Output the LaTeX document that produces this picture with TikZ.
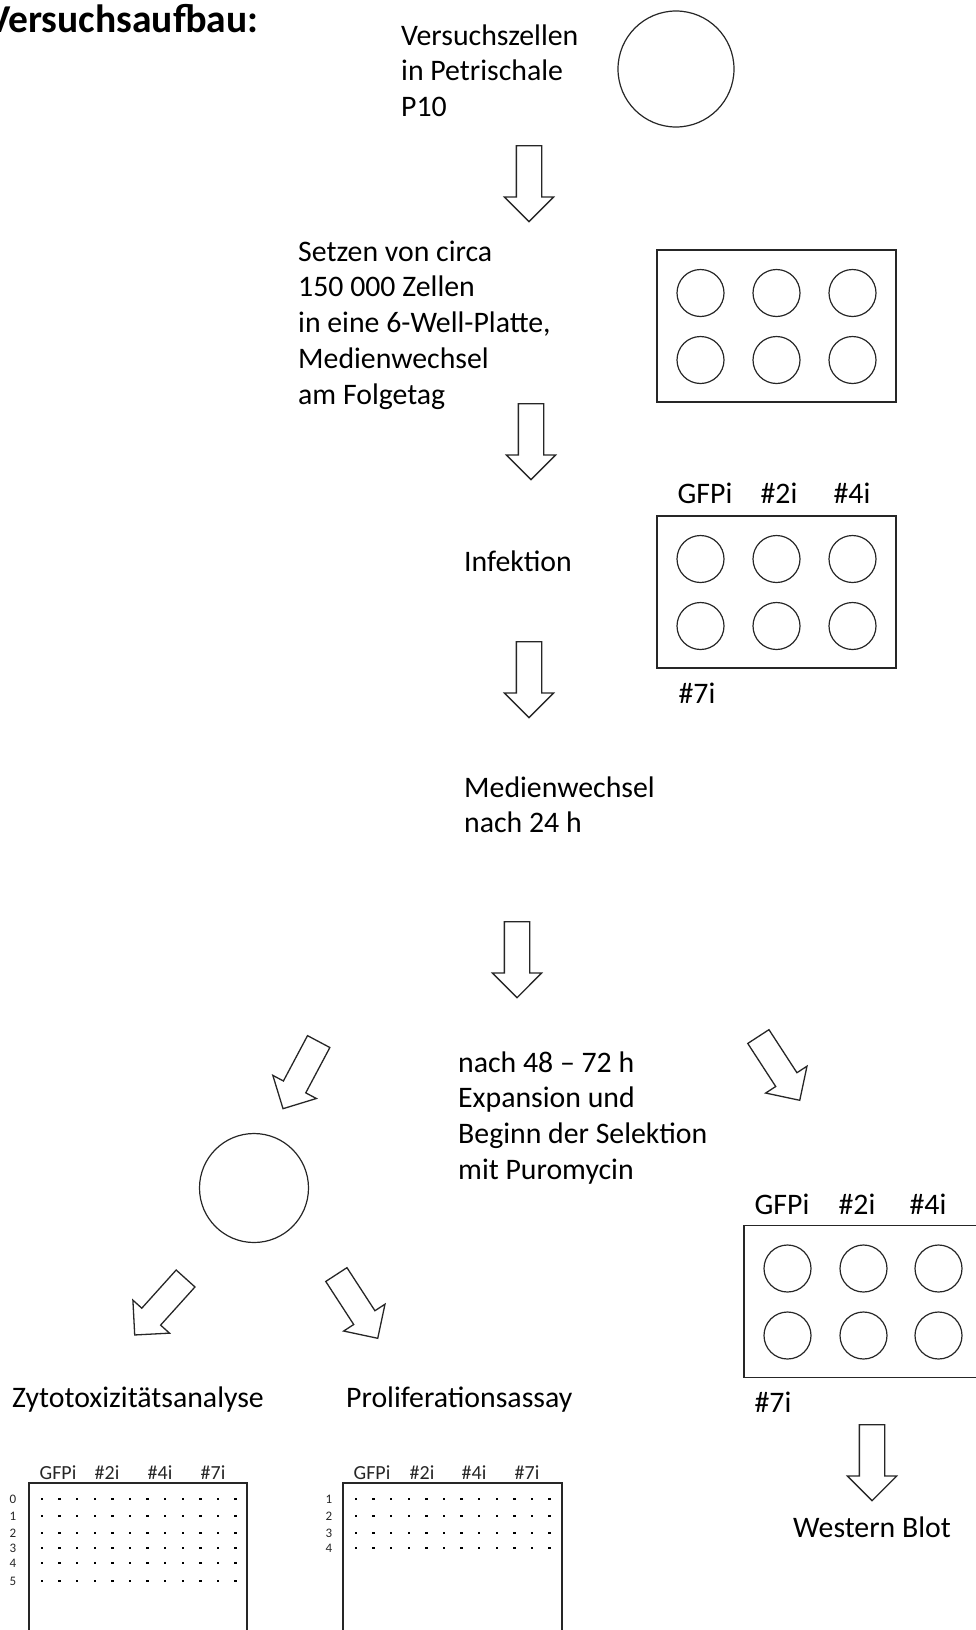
\documentclass[tikz,border=0pt]{standalone}
\usepackage{fontspec}
\setmainfont{Carlito}
\usetikzlibrary{shapes.arrows, calc}

\begin{document}
\begin{tikzpicture}[
    x=1pt, y=-1pt,
    % base = baseline of the last line
    txt/.style={anchor=base west, align=left, inner sep=0pt,
                font=\fontsize{29.8}{35.8}\selectfont},
    lbl/.style={anchor=base, inner sep=0pt,
                font=\fontsize{29.8}{35.8}\selectfont},
    small/.style={anchor=base, inner sep=0pt,
                  font=\fontsize{20}{24}\selectfont, text=black!85},
    tiny/.style={anchor=base, inner sep=0pt,
                 font=\fontsize{13}{15}\selectfont, text=black!85},
    dish/.style={circle, draw=black!85, line width=1.2pt, inner sep=0pt},
    plate/.style={rectangle, draw=black!85, line width=1.3pt, inner sep=0pt,
                  minimum width=239pt, minimum height=152pt},
    well/.style={circle, draw=black!85, line width=1.2pt, inner sep=0pt,
                 minimum size=47pt},
    sheet/.style={draw=black!85, line width=1.3pt},
    blk/.style={single arrow, draw=black!85, line width=1.3pt,
                inner xsep=0pt, inner ysep=12pt,
                single arrow head extend=12pt, minimum height=76pt,
                anchor=tail},
  ]
  \useasboundingbox (0,0) rectangle (976,1630);
  \clip (0,0) rectangle (976,1630);

  \node[anchor=base west, inner sep=0pt,
        font=\fontsize{39.5}{46}\selectfont\bfseries] (title)
    at (-13,32) {Versuchsaufbau:};

  % Petrischale
  \node[txt] (zellen) at (401,116.6) {Versuchszellen\\in Petrischale\\P10};
  \node[dish, minimum size=116pt] (petri) at (676,69) {};
  \node[blk, rotate=-90] (ar1) at (529,145) {};

  % 6-Well-Platte
  \node[txt] (setzen) at (298,404.2)
    {Setzen von circa\\150 000 Zellen\\in eine 6-Well-Platte,\\Medienwechsel\\am Folgetag};
  \node[plate] (plA) at (776.5,326) {};
  \foreach \dx [count=\i] in {-76,0,76}
    \foreach \dy [count=\j] in {-33,34}
      \node[well] (plA-\i-\j) at ($(plA)+(\dx,\dy)$) {};
  \node[blk, rotate=-90] (ar2) at (531,403) {};

  % Infektion
  \node[lbl] (bGFP) at (705,503) {GFPi};
  \node[lbl] (b2) at (779,503) {\#2i};
  \node[lbl] (b4) at (852,503) {\#4i};
  \node[plate] (plB) at (776.5,592) {};
  \foreach \dx [count=\i] in {-76,0,76}
    \foreach \dy [count=\j] in {-33,34}
      \node[well] (plB-\i-\j) at ($(plB)+(\dx,\dy)$) {};
  \node[lbl] (b7) at (697,703) {\#7i};
  \node[txt] (infekt) at (464,571) {Infektion};
  \node[blk, rotate=-90] (ar3) at (529,641) {};

  \node[txt] (wechsel) at (464,832.8) {Medienwechsel\\nach 24 h};
  \node[blk, rotate=-90] (ar4) at (517,921) {};

  % Selektion
  \node[txt] (selekt) at (458,1179.4)
    {nach 48 – 72 h\\Expansion und\\Beginn der Selektion\\mit Puromycin};
  \node[blk, rotate=-118] (ar5) at (319,1041) {};
  \node[blk, rotate=-57] (ar6) at (758,1036) {};

  % linker Zweig
  \node[dish, minimum size=109pt] (flask) at (254,1188) {};
  \node[blk, rotate=-132] (ar7) at (186,1278) {};
  \node[blk, rotate=-57] (ar8) at (336,1274) {};
  \node[txt] (zyto) at (12,1407) {Zytotoxizitätsanalyse};
  \node[txt] (prolif) at (346,1407) {Proliferationsassay};

  % Zytotoxizitaet
  \draw[sheet] (29,1483) rectangle (247,1660);
  \foreach \lab/\x in {GFPi/58, \#2i/107, \#4i/160, \#7i/213}
    \node[small] at (\x,1479) {\lab};
  \foreach \y [count=\r from 0] in {1499,1516,1533,1548,1563,1581} {
    \node[tiny] at (13,\y+4) {\r};
    \foreach \c in {0,...,11}
      \fill (42+17.6*\c-1.2,\y-1.2) rectangle ++(2.4,2.4);
  }

  % Proliferation
  \draw[sheet] (343,1483) rectangle (562,1660);
  \foreach \lab/\x in {GFPi/372, \#2i/422, \#4i/474, \#7i/527}
    \node[small] at (\x,1479) {\lab};
  \foreach \y [count=\r] in {1499,1516,1533,1548} {
    \node[tiny] at (329,\y+4) {\r};
    \foreach \c in {0,...,11}
      \fill (356+17.6*\c-1.2,\y-1.2) rectangle ++(2.4,2.4);
  }

  % rechter Zweig
  \node[lbl] (cGFP) at (782,1214) {GFPi};
  \node[lbl] (c2) at (857,1214) {\#2i};
  \node[lbl] (c4) at (928,1214) {\#4i};
  \node[plate] (plC) at (863.5,1301.5) {};
  \foreach \dx [count=\i] in {-76,0,75}
    \foreach \dy [count=\j] in {-33,34}
      \node[well] (plC-\i-\j) at ($(plC)+(\dx,\dy)$) {};
  \node[lbl] (c7) at (773,1412) {\#7i};
  \node[blk, rotate=-90] (ar9) at (872,1424) {};
  \node[txt] (wb) at (793,1537) {Western Blot};
\end{tikzpicture}
\end{document}
